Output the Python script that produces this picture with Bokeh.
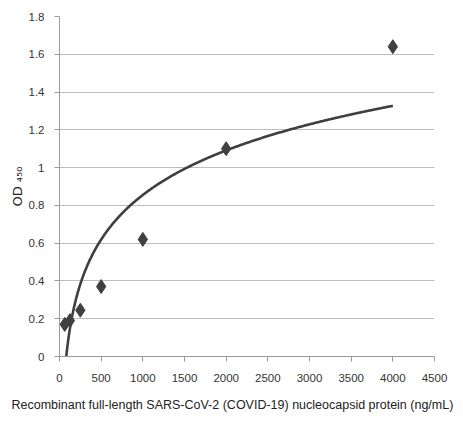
import numpy as np
from bokeh.plotting import figure
from bokeh.models import Range1d, FixedTicker, Title
from bokeh.embed import file_html
from bokeh.resources import INLINE

conc = [62.5, 125, 250, 500, 1000, 2000, 4000]
od = [0.17, 0.19, 0.245, 0.37, 0.62, 1.10, 1.64]
x_ticks = [0, 500, 1000, 1500, 2000, 2500, 3000, 3500, 4000, 4500]
y_ticks = [0, 0.2, 0.4, 0.6, 0.8, 1.0, 1.2, 1.4, 1.6, 1.8]
x_title = "Recombinant full-length SARS-CoV-2 (COVID-19) nucleocapsid protein (ng/mL)"
y_title = "OD \u2084\u2085\u2080"

# logarithmic trendline fitted from the data
a, b = np.polyfit(np.log(conc), od, 1)
xs = np.linspace(min(conc), max(conc), 400)
ys = a * np.log(xs) + b

FONT = "Liberation Sans, sans-serif"

p = figure(width=463, height=432, output_backend="svg", toolbar_location=None,
           x_range=Range1d(0, 4500), y_range=Range1d(0, 1.8),
           min_border_left=59, min_border_right=29, min_border_top=16, min_border_bottom=76)
p.outline_line_color = None
p.background_fill_color = "white"

p.line(xs, ys, line_color="#3f3f3f", line_width=2.6)
p.scatter(conc, od, marker="diamond", size=14, fill_color="#404040", line_color="#404040")

p.xgrid.grid_line_color = None
p.ygrid.grid_line_color = "#bdbdbd"
p.ygrid.grid_line_width = 1
p.ygrid.ticker = FixedTicker(ticks=y_ticks)

p.xaxis.ticker = FixedTicker(ticks=x_ticks)
p.yaxis.ticker = FixedTicker(ticks=y_ticks)
p.yaxis.major_label_overrides = {0: "0", 1.0: "1"}
for ax in (p.xaxis, p.yaxis):
    ax.axis_line_color = "#9a9a9a"
    ax.major_tick_line_color = "#9a9a9a"
    ax.minor_tick_line_color = None
    ax.major_tick_in = 0
    ax.major_tick_out = 5
    ax.major_label_text_font = FONT
    ax.major_label_text_font_size = "11.5px"
    ax.major_label_text_color = "#333333"

p.xaxis.major_label_standoff = 12
p.yaxis.major_label_standoff = 10

p.add_layout(Title(text=x_title, align="left", offset=-48, standoff=22,
                   text_font=FONT, text_font_size="12.5px", text_font_style="normal",
                   text_color="#222222"), "below")
p.add_layout(Title(text=y_title, align="center", standoff=2,
                   text_font="DejaVu Sans, sans-serif", text_font_size="13px",
                   text_font_style="normal", text_color="#222222"), "left")

open("out.html", "w").write(file_html(p, INLINE))
